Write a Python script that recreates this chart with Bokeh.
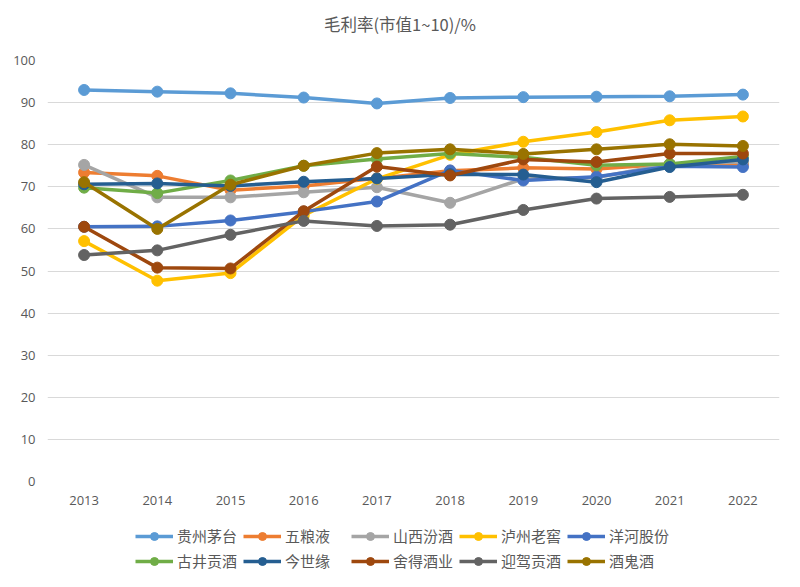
from bokeh.plotting import figure
from bokeh.layouts import column
from bokeh.models import Legend, LegendItem, FixedTicker, Range1d, Div
from bokeh.embed import file_html
from bokeh.resources import INLINE

years = [2013, 2014, 2015, 2016, 2017, 2018, 2019, 2020, 2021, 2022]
names = ["贵州茅台", "五粮液", "山西汾酒", "泸州老窖", "洋河股份",
         "古井贡酒", "今世缘", "舍得酒业", "迎驾贡酒", "酒鬼酒"]
colors = ["#5B9BD5", "#ED7D31", "#A5A5A5", "#FFC000", "#4472C4",
          "#70AD47", "#255E91", "#9E480E", "#636363", "#997300"]

moutai    = [93.0, 92.6, 92.2, 91.2, 89.8, 91.1, 91.3, 91.4, 91.5, 91.9]
wuliangye = [73.4, 72.6, 69.2, 70.2, 72.0, 73.8, 74.5, 74.2, 75.4, 75.4]
fenjiu    = [75.2, 67.5, 67.5, 68.7, 69.9, 66.2, 71.9, 72.2, 75.4, 75.9]
laojiao   = [57.1, 47.7, 49.5, 63.2, 71.9, 77.6, 80.7, 83.0, 85.8, 86.7]
yanghe    = [60.5, 60.6, 62.0, 64.1, 66.5, 73.9, 71.5, 72.4, 74.9, 74.7]
gujing    = [69.8, 68.5, 71.5, 75.0, 76.6, 77.9, 77.0, 75.1, 75.4, 77.2]
jinshiyuan = [70.6, 70.8, 70.2, 71.2, 72.0, 73.0, 72.9, 71.1, 74.7, 76.5]
shede     = [60.5, 50.8, 50.6, 64.2, 74.8, 72.7, 76.5, 75.9, 77.9, 77.9]
yingjia   = [53.8, 54.9, 58.6, 61.9, 60.7, 61.0, 64.5, 67.2, 67.6, 68.1]
jiuguijiu = [71.1, 60.0, 70.5, 75.0, 78.0, 78.9, 77.8, 78.9, 80.1, 79.7]

series = [moutai, wuliangye, fenjiu, laojiao, yanghe,
          gujing, jinshiyuan, shede, yingjia, jiuguijiu]
y_ticks = list(range(0, 101, 10))
title_text = "毛利率(市值1~10)/%"

FONT = "Open Sans"
CJK = "Noto Sans CJK SC"
TXT = "#595959"

title = Div(text=title_text, width=792, height=50, margin=0,
            styles={"text-align": "center", "font-size": "16.5px",
                    "font-family": CJK, "color": TXT,
                    "line-height": "48px", "text-indent": "8px"})

p = figure(frame_width=732, frame_height=421, output_backend="svg",
           toolbar_location=None,
           x_range=Range1d(2012.5, 2022.5), y_range=Range1d(0, 100),
           min_border_left=47, min_border_right=13, min_border_top=10,
           min_border_bottom=30)

p.outline_line_color = None
p.xgrid.visible = False
p.ygrid.grid_line_color = "#D9D9D9"
p.ygrid.grid_line_width = 1
p.yaxis.ticker = FixedTicker(ticks=y_ticks)
p.xaxis.ticker = FixedTicker(ticks=years)
for ax in (p.xaxis[0], p.yaxis[0]):
    ax.axis_line_color = None
    ax.major_tick_line_color = None
    ax.minor_tick_line_color = None
    ax.major_label_text_font = FONT
    ax.major_label_text_font_size = "13px"
    ax.major_label_text_color = TXT
p.yaxis.major_label_standoff = 6
p.xaxis.major_label_standoff = 8

for col, vals in zip(colors, series):
    p.line(years, vals, line_color=col, line_width=3.5)
    p.scatter(years, vals, size=11, marker="circle",
              fill_color=col, line_color=col)

# legend-only strip below the chart (same series, drawn outside its view)
q = figure(width=792, height=70, output_backend="svg", toolbar_location=None,
           x_range=Range1d(2012.5, 2022.5), y_range=Range1d(1000, 1001),
           x_axis_location=None, y_axis_location=None,
           min_border_left=0, min_border_right=0, min_border_top=0,
           min_border_bottom=0)
q.grid.visible = False
q.outline_line_color = None

items = []
for name, col, vals in zip(names, colors, series):
    lr = q.line(years, vals, line_color=col, line_width=3.5)
    sr = q.scatter(years, vals, size=9, marker="circle",
                   fill_color=col, line_color=col)
    items.append(LegendItem(label=name, renderers=[lr, sr]))

legend = Legend(items=items, orientation="horizontal", ncols=5,
                location=(88, 10), border_line_color=None,
                background_fill_alpha=0, padding=0, margin=0,
                spacing=4, glyph_width=38, glyph_height=20,
                label_width=62, label_standoff=4,
                label_text_font=CJK, label_text_font_size="15px",
                label_text_color=TXT)
q.add_layout(legend, "center")

layout = column(title, p, q, spacing=0)
open("out.html", "w").write(file_html(layout, INLINE))
